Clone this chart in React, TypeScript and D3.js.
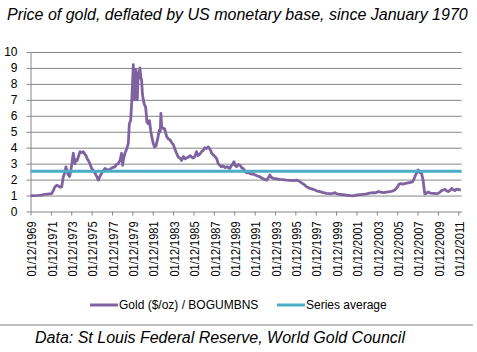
import { useEffect, useRef } from 'react'
import * as d3 from 'd3'

// decimal year of each reading (monthly series, thinned) and gold / monetary base ratio
const years = [
  1969.92, 1970.3, 1970.7, 1971.0, 1971.3, 1971.6, 1971.99, 1972.15, 1972.32, 1972.5,
  1972.65, 1972.85, 1972.98, 1973.14, 1973.3, 1973.4, 1973.5, 1973.63, 1973.75, 1973.86,
  1974.0, 1974.12, 1974.2, 1974.28, 1974.4, 1974.51, 1974.65, 1974.78, 1974.95, 1975.1,
  1975.25, 1975.36, 1975.5, 1975.59, 1975.75, 1975.92, 1976.1, 1976.25, 1976.45, 1976.57,
  1976.7, 1976.9, 1977.05, 1977.23, 1977.45, 1977.72, 1977.95, 1978.21, 1978.35, 1978.54,
  1978.7, 1978.86, 1978.96, 1979.05, 1979.19, 1979.35, 1979.52, 1979.62, 1979.75, 1979.85,
  1979.93, 1980.01, 1980.06, 1980.11, 1980.2, 1980.27, 1980.33, 1980.4, 1980.47, 1980.53,
  1980.6, 1980.66, 1980.75, 1980.83, 1980.9, 1980.99, 1981.1, 1981.22, 1981.35, 1981.48,
  1981.6, 1981.71, 1981.85, 1981.97, 1982.1, 1982.23, 1982.4, 1982.56, 1982.65, 1982.72,
  1982.8, 1982.95, 1983.08, 1983.2, 1983.28, 1983.45, 1983.61, 1983.8, 1983.93, 1984.1,
  1984.26, 1984.45, 1984.59, 1984.75, 1984.92, 1985.1, 1985.24, 1985.4, 1985.57, 1985.75,
  1985.9, 1986.05, 1986.22, 1986.35, 1986.55, 1986.71, 1986.9, 1987.04, 1987.2, 1987.37,
  1987.55, 1987.7, 1987.85, 1988.02, 1988.2, 1988.35, 1988.5, 1988.68, 1988.85, 1989.0,
  1989.17, 1989.35, 1989.49, 1989.6, 1989.75, 1989.89, 1990.0, 1990.15, 1990.3, 1990.48,
  1990.65, 1990.8, 1990.95, 1991.13, 1991.4, 1991.6, 1991.78, 1992.1, 1992.44, 1992.75,
  1993.1, 1993.3, 1993.42, 1993.55, 1993.75, 1994.1, 1994.4, 1994.7, 1995.06, 1995.4,
  1995.71, 1996.04, 1996.3, 1996.53, 1996.8, 1997.02, 1997.35, 1997.67, 1998.0, 1998.33,
  1998.65, 1998.98, 1999.3, 1999.63, 1999.8, 2000.0, 2000.29, 2000.6, 2000.95, 2001.3,
  2001.6, 2001.9, 2002.26, 2002.6, 2002.91, 2003.2, 2003.56, 2003.8, 2004.05, 2004.3,
  2004.54, 2004.85, 2005.2, 2005.45, 2005.69, 2005.9, 2006.11, 2006.3, 2006.5, 2006.75,
  2007.0, 2007.2, 2007.42, 2007.55, 2007.65, 2007.8, 2007.97, 2008.1, 2008.3, 2008.46,
  2008.55, 2008.63, 2008.8, 2008.96, 2009.2, 2009.45, 2009.7, 2009.94, 2010.1, 2010.27,
  2010.45, 2010.6, 2010.75, 2010.92, 2011.1, 2011.25, 2011.4, 2011.58, 2011.75, 2011.9,
  2012.05, 2012.17,
]

const goldRatio = [
  1.0, 1.0, 1.01, 1.03, 1.07, 1.09, 1.12, 1.3, 1.55, 1.65,
  1.6, 1.52, 1.55, 2.2, 2.45, 2.8, 2.55, 2.3, 2.2, 2.5,
  3.1, 3.65, 3.3, 3.0, 3.25, 3.2, 3.5, 3.75, 3.7, 3.75,
  3.6, 3.5, 3.3, 3.2, 3.0, 2.7, 2.55, 2.4, 2.15, 1.97,
  2.15, 2.4, 2.55, 2.7, 2.6, 2.65, 2.75, 2.8, 2.95, 3.0,
  3.2, 3.65, 2.9, 3.3, 3.65, 3.9, 4.27, 5.5, 5.7, 6.8,
  8.0, 9.2, 7.5, 7.0, 8.4, 8.9, 7.5, 7.0, 8.2, 8.7,
  8.8, 9.0, 8.4, 8.2, 7.4, 7.0, 6.7, 6.55, 5.6, 5.5,
  5.7, 5.1, 4.6, 4.27, 4.05, 4.1, 4.55, 5.1, 5.0, 6.15,
  5.3, 5.2, 5.2, 4.9, 4.7, 4.55, 4.5, 4.3, 4.2, 3.9,
  3.65, 3.4, 3.35, 3.2, 3.45, 3.3, 3.35, 3.4, 3.5, 3.4,
  3.35, 3.45, 3.75, 3.5, 3.6, 3.75, 3.85, 4.0, 3.95, 4.05,
  3.9, 3.65, 3.55, 3.45, 3.3, 3.0, 2.9, 2.8, 2.85, 2.75,
  2.8, 2.75, 2.7, 2.85, 2.95, 3.12, 2.9, 2.8, 2.95, 2.9,
  2.75, 2.7, 2.55, 2.43, 2.4, 2.35, 2.35, 2.25, 2.18, 2.05,
  1.97, 2.15, 2.29, 2.15, 2.08, 2.05, 2.02, 2.0, 1.97, 1.95,
  1.93, 1.97, 1.9, 1.8, 1.68, 1.55, 1.45, 1.39, 1.3, 1.25,
  1.18, 1.14, 1.12, 1.14, 1.18, 1.1, 1.08, 1.05, 1.02, 1.0,
  0.98, 1.02, 1.06, 1.08, 1.1, 1.15, 1.19, 1.17, 1.25, 1.22,
  1.19, 1.22, 1.25, 1.28, 1.35, 1.5, 1.72, 1.75, 1.72, 1.77,
  1.8, 1.82, 1.86, 2.0, 2.18, 2.4, 2.6, 2.45, 2.4, 1.97,
  1.5, 1.1, 1.15, 1.23, 1.15, 1.14, 1.12, 1.14, 1.2, 1.31,
  1.35, 1.39, 1.3, 1.25, 1.32, 1.44, 1.38, 1.31, 1.4, 1.39,
  1.36, 1.35,
]

const seriesAverage = 2.52

const tickYears = [1969, 1971, 1973, 1975, 1977, 1979, 1981, 1983, 1985, 1987, 1989,
  1991, 1993, 1995, 1997, 1999, 2001, 2003, 2005, 2007, 2009, 2011]
const yTicks = [0, 1, 2, 3, 4, 5, 6, 7, 8, 9, 10]

const W = 477
const H = 352
const PLOT = { left: 30.5, right: 461.7, top: 52, bottom: 211.5 }
const PURPLE = '#7F63A1'
const TEAL = '#4BACC6'
const GRID = '#868686'
const FONT = '"Liberation Sans", Arial, sans-serif'

export default function App() {
  const svgRef = useRef<SVGSVGElement>(null)

  useEffect(() => {
    const svg = d3.select(svgRef.current)
    svg.selectAll('*').remove()

    const x = d3.scaleLinear([1969 + 11 / 12, 2012.25], [PLOT.left, PLOT.right])
    const y = d3.scaleLinear([0, 10], [PLOT.bottom, PLOT.top])

    svg.append('rect').attr('width', W).attr('height', H).attr('fill', '#fff')

    // ── Title ──
    svg.append('text')
      .attr('x', 7).attr('y', 20)
      .attr('font-family', FONT).attr('font-style', 'italic').attr('font-size', 16)
      .attr('fill', '#000')
      .text('Price of gold, deflated by US monetary base, since January 1970')

    // ── Grid ──
    svg.append('g')
      .attr('transform', `translate(${PLOT.left},0)`)
      .call(d3.axisRight(y).tickValues(yTicks.slice(1)).tickSize(PLOT.right - PLOT.left).tickFormat(() => ''))
      .call(ag => ag.select('.domain').remove())
      .call(ag => ag.selectAll('.tick line').attr('stroke', GRID).attr('stroke-width', 1))

    // ── Y axis ──
    svg.append('g')
      .attr('transform', `translate(${PLOT.left},0)`)
      .call(d3.axisLeft(y).tickValues(yTicks).tickSize(4).tickPadding(9).tickSizeOuter(0))
      .call(ag => ag.select('.domain').attr('stroke', GRID))
      .call(ag => ag.selectAll('.tick line').attr('stroke', GRID))
      .call(ag => ag.selectAll('text').attr('fill', '#000').attr('font-size', 12).attr('font-family', FONT))

    // ── X axis ──
    const xa = svg.append('g')
      .attr('transform', `translate(0,${PLOT.bottom})`)
      .call(d3.axisBottom(x).tickValues(tickYears.map(t => t + 11 / 12)).tickSize(4).tickSizeOuter(0).tickFormat(() => ''))
      .call(ag => ag.select('.domain').attr('stroke', GRID))
      .call(ag => ag.selectAll('.tick line').attr('stroke', GRID))

    xa.selectAll('.tick').append('text')
      .data(tickYears)
      .attr('transform', 'translate(1,10) rotate(-90)')
      .attr('text-anchor', 'end').attr('dy', '0.35em')
      .attr('fill', '#000').attr('font-size', 12).attr('font-family', FONT)
      .attr('textLength', 55).attr('lengthAdjust', 'spacingAndGlyphs')
      .text(d => `01/12/${d}`)

    // ── Series ──
    const pts = years.map((yr, i) => [yr, goldRatio[i]] as [number, number])
    svg.append('path')
      .datum(pts)
      .attr('d', d3.line<[number, number]>().x(d => x(d[0])).y(d => y(d[1])))
      .attr('fill', 'none').attr('stroke', PURPLE).attr('stroke-width', 2.8)
      .attr('stroke-linejoin', 'round')

    svg.append('line')
      .attr('x1', x(years[0])).attr('x2', PLOT.right)
      .attr('y1', y(seriesAverage)).attr('y2', y(seriesAverage))
      .attr('stroke', TEAL).attr('stroke-width', 3)

    // ── Legend ──
    const legend = [
      { label: 'Gold ($/oz) / BOGUMBNS', color: PURPLE, x0: 90 },
      { label: 'Series average', color: TEAL, x0: 277 },
    ]
    legend.forEach(({ label, color, x0 }) => {
      svg.append('line')
        .attr('x1', x0).attr('x2', x0 + 28).attr('y1', 305).attr('y2', 305)
        .attr('stroke', color).attr('stroke-width', 3)
      svg.append('text')
        .attr('x', x0 + 29).attr('y', 309)
        .attr('font-family', FONT).attr('font-size', 12).attr('fill', '#000')
        .text(label)
    })

    // ── Footer ──
    svg.append('line')
      .attr('x1', 0).attr('x2', 473).attr('y1', 325).attr('y2', 325)
      .attr('stroke', '#808080').attr('stroke-width', 1)

    svg.append('text')
      .attr('x', 35).attr('y', 343)
      .attr('font-family', FONT).attr('font-style', 'italic').attr('font-size', 16)
      .attr('fill', '#000')
      .text('Data: St Louis Federal Reserve, World Gold Council')
  }, [])

  return (
    <div style={{ position: 'absolute', left: 0, top: 0, width: W, height: H }}>
      <svg ref={svgRef} width={W} height={H} style={{ display: 'block' }} />
    </div>
  )
}
